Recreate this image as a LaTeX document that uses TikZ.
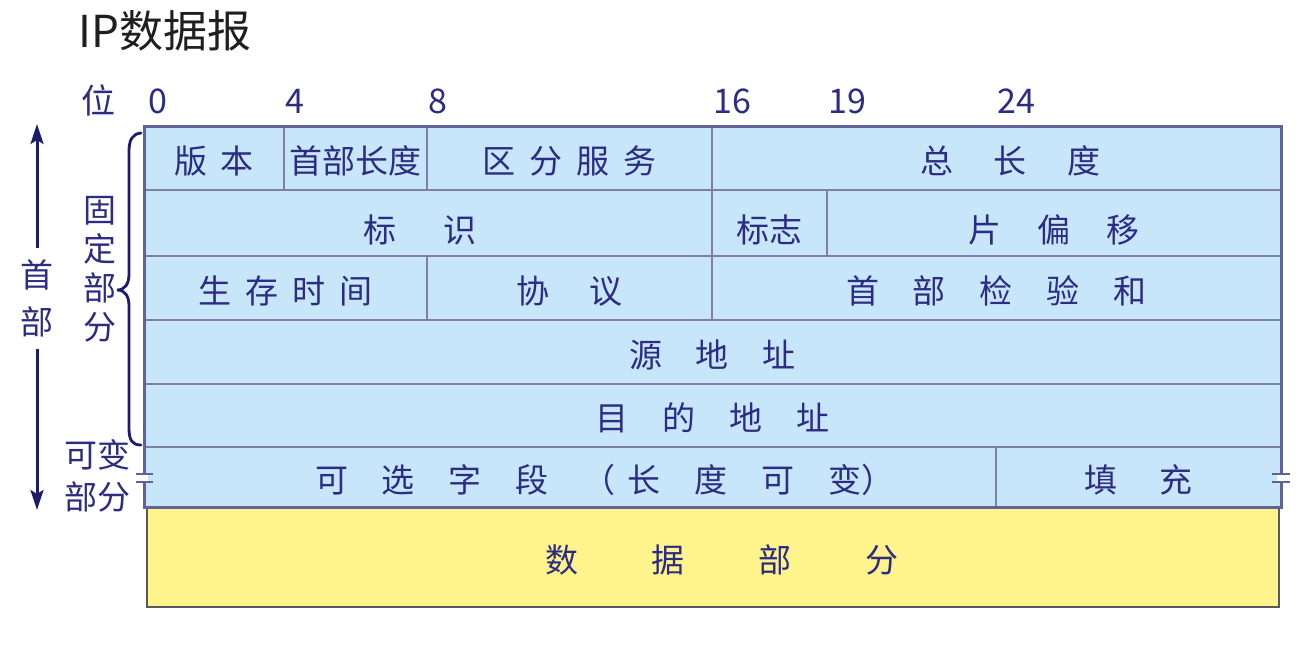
\documentclass[tikz,border=0pt]{standalone}
\usepackage{fontspec}
\setmainfont{Noto Sans CJK SC}
\usetikzlibrary{arrows.meta}
\definecolor{navy}{HTML}{2C2C84}
\definecolor{arrnavy}{HTML}{1C1C6E}
\definecolor{cellblue}{HTML}{C8E6FA}
\definecolor{innerln}{HTML}{8080A6}
\definecolor{outerln}{HTML}{62629A}
\definecolor{datay}{HTML}{FFF38C}
\newcommand\hs[1]{\hspace{#1pt}}
% \cellnd{style}{name}{x1}{y1}{x2}{y2}{text}
\newcommand\cellnd[7]{\node[#1, minimum width={(#5-#3)*0.5pt}, minimum height={(#6-#4)*0.5pt}] (#2) at ({(#3+#5)/2},{(#4+#6)/2}) {#7};}
\begin{document}
\begin{tikzpicture}[x=0.5pt,y=-0.5pt,
  cell/.style={draw=innerln, line width=0.75pt, fill=cellblue, inner sep=0pt,
    text=navy, font=\fontsize{16.5}{16.5}\selectfont, text height=17pt, text depth=1.5pt},
  lowcell/.style={cell, text height=21pt},
  datacell/.style={draw=black!65, line width=0.6pt, fill=datay, inner sep=0pt,
    text=navy, font=\fontsize{16.5}{16.5}\selectfont, text height=17pt, text depth=1.5pt},
  bitlbl/.style={anchor=west, inner sep=0pt, text=navy, font=\fontsize{17}{17}\selectfont},
  sidelbl/.style={inner sep=0pt, text=navy, align=center},
  border/.style={draw=outerln, line width=1.5pt},
  tick/.style={draw=outerln, line width=1pt},
  arr/.style={draw=arrnavy, line width=1.5pt, -{Stealth[length=10pt,width=6.5pt,inset=2pt]}},
  bracest/.style={draw=arrnavy, line width=1.4pt, line cap=round}]
\useasboundingbox (0,0) rectangle (1314,668);
\fill[white] (0,0) rectangle (1314,668);

% title
\node[anchor=west, inner sep=0pt, text=black!88, font=\fontsize{22}{22}\selectfont] (title) at (78,31) {IP数据报};

% bit labels
\node[inner sep=0pt, text=navy, font=\fontsize{17}{17}\selectfont] (wei) at (98,100) {位};
\node[bitlbl] (b0) at (148,101) {0};
\node[bitlbl] (b4) at (285,101) {4};
\node[bitlbl] (b8) at (428,101) {8};
\node[bitlbl] (b16) at (713,101) {16};
\node[bitlbl] (b19) at (828,101) {19};
\node[bitlbl] (b24) at (997,101) {24};

% data part
\cellnd{datacell}{data}{147}{508}{1279}{607}{\hspace*{9pt}数\hs{37}据\hs{37}部\hs{37}分}

% header rows
\cellnd{cell}{ver}{144}{127}{284}{190}{版\hs{7}本}
\cellnd{cell}{ihl}{284}{127}{427}{190}{首部长度}
\cellnd{cell}{tos}{427}{127}{712}{190}{区\hs{7}分\hs{7}服\hs{7}务}
\cellnd{cell}{tlen}{712}{127}{1281}{190}{\hspace*{14pt}总\hs{20.5}长\hs{20.5}度}

\cellnd{lowcell}{ident}{144}{190}{712}{256}{标\hs{23.5}识\hspace*{8pt}}
\cellnd{lowcell}{flags}{712}{190}{827}{256}{标志}
\cellnd{lowcell}{frag}{827}{190}{1281}{256}{片\hs{18}偏\hs{18}移}

\cellnd{cell}{ttl}{144}{256}{427}{320}{生\hs{7}存\hs{7}时\hs{7}间}
\cellnd{cell}{proto}{427}{256}{712}{320}{协\hs{20}议}
\cellnd{cell}{csum}{712}{256}{1281}{320}{首\hs{17}部\hs{17}检\hs{17}验\hs{17}和}

\cellnd{cell}{src}{144}{320}{1281}{384}{源\hs{17}地\hs{17}址}
\cellnd{cell}{dst}{144}{384}{1281}{447}{目\hs{17}的\hs{17}地\hs{17}址}

\cellnd{cell}{opt}{144}{447}{996}{508}{\hspace*{35pt}可\hs{17}选\hs{17}字\hs{17}段\hs{17}（\hs{6}长\hs{17}度\hs{17}可\hs{17}变）}
\cellnd{cell}{pad}{996}{447}{1281}{508}{填\hs{21}充}

% outer border with breaks
\draw[border] (144,474) -- (144,127) -- (1281,127) -- (1281,474);
\draw[border] (1281,482) -- (1281,508) -- (144,508) -- (144,482);
\fill[white] (140,475) rectangle (148,481);
\fill[white] (1277,475) rectangle (1285,481);
\draw[tick] (136,474) -- (153,474);
\draw[tick] (136,482) -- (153,482);
\draw[tick] (1272,474) -- (1290,474);
\draw[tick] (1272,482) -- (1290,482);

% brace for fixed part
\draw[bracest] (141,133) .. controls (132,134) and (129,140) .. (129,152)
  -- (129,274) .. controls (129,284) and (125,290) .. (117,290)
  .. controls (125,290) and (129,296) .. (129,306)
  -- (129,428) .. controls (129,440) and (132,445) .. (141,445);

% side labels
\node[sidelbl, font=\fontsize{16.5}{19.5}\selectfont] (fixed) at (100,269) {固\\定\\部\\分};
\node[sidelbl, font=\fontsize{16.5}{21}\selectfont] (var) at (97,476) {可变\\部分};
\node[sidelbl, font=\fontsize{16.5}{23.5}\selectfont] (hdr) at (37,298) {首\\部};

% header arrows
\coordinate (upstart) at (37,248);
\coordinate (uptip) at (37,124);
\coordinate (dnstart) at (37,349);
\coordinate (dntip) at (37,510);
\draw[arr] (upstart) -- (uptip);
\draw[arr] (dnstart) -- (dntip);
\end{tikzpicture}
\end{document}
